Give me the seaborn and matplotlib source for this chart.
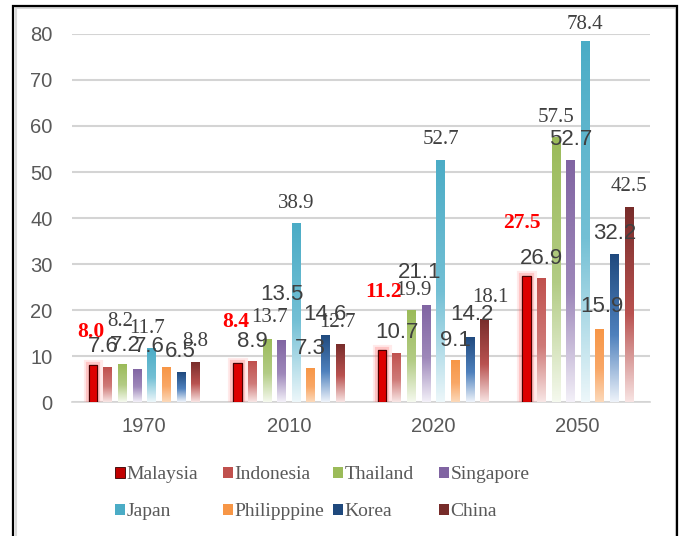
import numpy as np
import pandas as pd
import matplotlib
matplotlib.use("Agg")
import matplotlib.pyplot as plt
import seaborn as sns
from matplotlib.colors import LinearSegmentedColormap
from matplotlib.patches import Rectangle, Patch
import matplotlib.patheffects as pe

# ---------------- data ----------------
years = ["1970", "2010", "2020", "2050"]
countries = ["Malaysia", "Indonesia", "Thailand", "Singapore",
             "Japan", "Philipppine", "Korea", "China"]
malaysia = [8.0, 8.4, 11.2, 27.5]
indonesia = [7.6, 8.9, 10.7, 26.9]
thailand = [8.2, 13.7, 19.9, 57.5]
singapore = [7.2, 13.5, 21.1, 52.7]
japan = [11.7, 38.9, 52.7, 78.4]
philippine = [7.6, 7.3, 9.1, 15.9]
korea = [6.5, 14.6, 14.2, 32.2]
china = [8.8, 12.7, 18.1, 42.5]
y_ticks = [0, 10, 20, 30, 40, 50, 60, 70, 80]

series = [malaysia, indonesia, thailand, singapore, japan, philippine, korea, china]
df = pd.DataFrame(
    [(y, c, v) for c, vals in zip(countries, series) for y, v in zip(years, vals)],
    columns=["year", "country", "value"],
)

# ---------------- style ----------------
# gradient stops per series: (bottom, middle, top)
grad_cols = {
    "Indonesia":   ("#F8E6E5", "#CF7A78", "#C0504D"),
    "Thailand":    ("#F5F9EE", "#B3CC85", "#9BBB59"),
    "Singapore":   ("#F3F0F8", "#9E88BA", "#8064A2"),
    "Japan":       ("#EDF7FA", "#74C0D5", "#4BACC6"),
    "Philipppine": ("#FCD9BA", "#F9A766", "#F79646"),
    "Korea":       ("#EEF3FA", "#4F81BD", "#1F497D"),
    "China":       ("#F8E4E3", "#B95250", "#772C2A"),
}
legend_cols = {
    "Malaysia": "#C00000", "Indonesia": "#C0504D", "Thailand": "#9BBB59",
    "Singapore": "#8064A2", "Japan": "#4BACC6", "Philipppine": "#F79646",
    "Korea": "#1F497D", "China": "#772C2A",
}
serif_series = {"Thailand", "Japan", "China"}
label_offset = {  # (year, country) -> (dx, dy) in pixels, default (0, 20)
    ("1970", "Malaysia"): (-2, 33), ("1970", "Indonesia"): (-4, 21),
    ("1970", "Thailand"): (-2, 43), ("1970", "Singapore"): (-12, 23),
    ("1970", "Japan"): (-5, 20), ("1970", "Philipppine"): (-17, 21),
    ("1970", "Korea"): (-1, 21),
    ("2010", "Malaysia"): (-2, 41), ("2010", "Singapore"): (1, 45),
    ("2010", "Thailand"): (3, 21), ("2010", "China"): (-3, 21),
    ("2020", "Malaysia"): (1, 58), ("2020", "Singapore"): (-6, 32),
    ("2020", "Thailand"): (2, 20), ("2020", "Korea"): (2, 22),
    ("2020", "China"): (6, 21),
    ("2050", "Malaysia"): (-5, 53), ("2050", "Japan"): (0, 17),
    ("2050", "Philipppine"): (2, 22),
}

SANS = "Liberation Sans"
SERIF = "Liberation Serif"
GRAY = "#595959"
LABEL = "#404040"

sns.set_style("white")
plt.rcParams["font.family"] = [SANS, "DejaVu Sans"]

W, H = 679, 536
fig = plt.figure(figsize=(W / 100, H / 100), dpi=100)
ax = fig.add_axes([72 / W, 134 / H, (650 - 72) / W, 368 / H])

sns.barplot(data=df, x="year", y="value", hue="country", order=years,
            hue_order=countries, palette=legend_cols, width=0.81, gap=0.42,
            legend=False, ax=ax, saturation=1, zorder=3)

ax.set_ylim(0, 80)
ax.set_xlim(-0.5, 3.5)
ax.set_yticks(y_ticks)
ax.yaxis.grid(True, color="#D4D4D4", linewidth=1.5, zorder=0)
ax.set_axisbelow(True)
for s in ["top", "right", "left"]:
    ax.spines[s].set_visible(False)
ax.spines["bottom"].set_color("#D4D4D4")
ax.spines["bottom"].set_linewidth(1.2)
ax.set_xlabel("")
ax.set_ylabel("")
ax.tick_params(axis="y", length=0, pad=14, labelsize=14.5, labelcolor=GRAY)
ax.tick_params(axis="x", length=0, pad=11, labelsize=14.5, labelcolor=GRAY)

xlim, ylim = ax.get_xlim(), ax.get_ylim()
grad = np.linspace(0, 1, 256).reshape(-1, 1)
for cont, country in zip(ax.containers, countries):
    for year, patch in zip(years, cont.patches):
        x0, y0 = patch.get_x(), patch.get_y()
        w, h = patch.get_width(), patch.get_height()
        if country == "Malaysia":
            patch.set_facecolor("#DD0000")
            patch.set_edgecolor("#4A0000")
            patch.set_linewidth(0.8)
            patch.set_path_effects([
                pe.withStroke(linewidth=8, foreground=(1, 0.55, 0.55, 0.18)),
                pe.withStroke(linewidth=4.5, foreground=(1, 0.35, 0.35, 0.25)),
                pe.Normal(),
            ])
        else:
            b, m, t = grad_cols[country]
            cmap = LinearSegmentedColormap.from_list(country, [(0, b), (0.45, m), (1, t)])
            patch.set_facecolor("none")
            patch.set_edgecolor("none")
            im = ax.imshow(grad, cmap=cmap, origin="lower", aspect="auto",
                           extent=[x0, x0 + w, y0, y0 + h], zorder=3,
                           interpolation="bilinear")
            im.set_clip_path(patch)
        val = patch.get_height()
        dx, dy = label_offset.get((year, country), (0, 20))
        if country == "Malaysia":
            kw = dict(family=SERIF, fontsize=15.5, fontweight="bold", color="#FF0000")
        elif country in serif_series:
            kw = dict(family=SERIF, fontsize=15, color=LABEL)
        else:
            kw = dict(family=SANS, fontsize=16, color=LABEL)
        ax.annotate(f"{val:.1f}", xy=(x0 + w / 2, val), xytext=(dx, dy),
                    textcoords="offset pixels", ha="center", va="center",
                    annotation_clip=False, zorder=6, **kw)
ax.set_xlim(xlim)
ax.set_ylim(ylim)

# ---------------- legend: 4 columns ----------------
col_x = [115, 223, 333, 439]
handles = []
for c in countries:
    if c == "Malaysia":
        handles.append(Patch(facecolor=legend_cols[c], edgecolor="#300000", linewidth=0.6, label=c))
    else:
        handles.append(Patch(facecolor=legend_cols[c], edgecolor="none", label=c))
for i, xpx in enumerate(col_x):
    fig.legend(handles=[handles[i], handles[i + 4]], loc="upper left",
               bbox_to_anchor=(xpx / W, (H - 466) / H), frameon=False,
               borderpad=0, borderaxespad=0, handlelength=0.5, handleheight=0.5,
               handletextpad=0.1, labelspacing=1.05,
               prop={"family": SERIF, "size": 14}, labelcolor=GRAY)

# ---------------- outer frame ----------------
fig.add_artist(Rectangle((15.5 / W, -0.05), (675.5 - 15.5) / W, (H - 8) / H + 0.05,
                         transform=fig.transFigure, fill=False,
                         edgecolor="#D9D9D9", linewidth=1.5))
fig.add_artist(Rectangle((13 / W, -0.05), (677 - 13) / W, (H - 6) / H + 0.05,
                         transform=fig.transFigure, fill=False,
                         edgecolor="black", linewidth=1.6))

fig.savefig("out.png", dpi=100)
